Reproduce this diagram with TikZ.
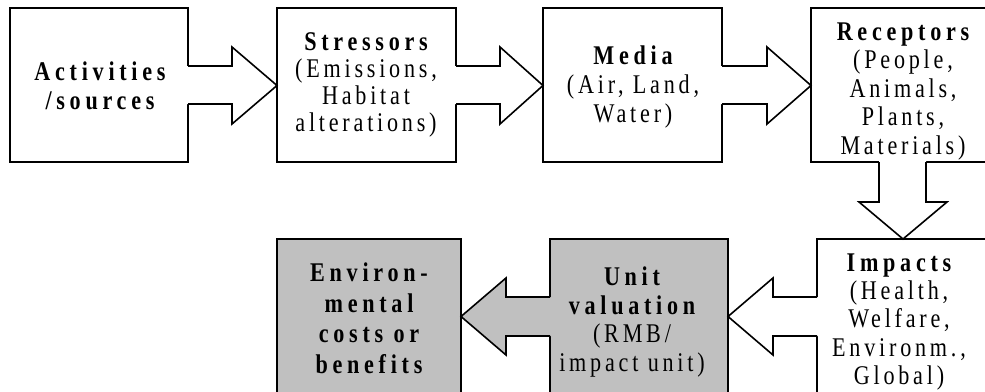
\documentclass[tikz,border=0pt]{standalone}
\usepackage{fontspec}
\setmainfont{Liberation Serif}
\newfontfamily\rsp[LetterSpace=14,FakeStretch=0.82]{Liberation Serif}
\newfontfamily\bsp[LetterSpace=17.5,FakeStretch=0.82]{Liberation Serif}
\usetikzlibrary{calc}
\definecolor{boxgray}{HTML}{C0C0C0}
\newcommand{\hd}[1]{{\bsp\bfseries #1}}
\tikzset{
  box/.style={draw, line width=1.6pt, inner sep=0pt, outer sep=0pt},
  wbox/.style={box, fill=white},
  gbox/.style={box, fill=boxgray},
  txt/.style={align=center, inner sep=0pt, font=\rsp\fontsize{27}{#1}\selectfont},
  outline/.style={line width=1.6pt, line join=miter},
}
\begin{document}
\begin{tikzpicture}[x=1pt, y=-1pt]
\useasboundingbox (0,0) rectangle (985,391);
\clip (0,0) rectangle (985,391);
\fill[white] (0,0) rectangle (985,391);
% boxes
\node[wbox, minimum width=178pt, minimum height=154pt] (A) at (99,85) {};
\node[wbox, minimum width=179pt, minimum height=154pt] (S) at (366.5,85) {};
\node[wbox, minimum width=179pt, minimum height=154pt] (M) at (632.5,85) {};
\node[wbox, minimum width=184pt, minimum height=154pt] (R) at (903,85) {};
\node[wbox, minimum width=178pt, minimum height=161pt] (I) at (906,319.5) {};
\node[gbox, minimum width=178pt, minimum height=161pt] (U) at (639,319.5) {};
\node[gbox, minimum width=184pt, minimum height=161pt] (E) at (369,319.5) {};
% texts
\node[txt=29] (tA) at (100,86) {\hd{Activities}\\\hd{/sources}};
\node[txt=27] (tS) at (366,85.3) {\hd{Stressors}\\(Emissions,\\Habitat\\alterations)};
\node[txt=29] (tM) at (633,87.5) {\hd{Media}\\(Air, Land,\\Water)};
\node[txt=28.5] (tR) at (903,91.5) {\hd{Receptors}\\(People,\\Animals,\\Plants,\\Materials)};
\node[txt=28.3] (tI) at (899,322) {\hd{Impacts}\\(Health,\\Welfare,\\Environm.,\\Global)};
\node[txt=28.7] (tU) at (632,322) {\hd{Unit}\\\hd{valuation}\\(RMB/\\impact unit)};
\node[txt=30.5] (tE) at (369,318.5) {\hd{Environ-}\\\hd{mental}\\\hd{costs or}\\\hd{benefits}};
% arrow A -> S
\fill[white] ([xshift=-1.5pt]A.east |- 0,66) -- (232,66) -- (232,47) -- (S.west |- 0,85.5) -- (232,124) -- (232,104) -- ([xshift=-1.5pt]A.east |- 0,104) -- cycle;
\draw[outline] (A.east |- 0,66) -- (232,66) -- (232,47) -- (S.west |- 0,85.5) -- (232,124) -- (232,104) -- (A.east |- 0,104);
% arrow S -> M
\fill[white] ([xshift=-1.5pt]S.east |- 0,66) -- (500,66) -- (500,47) -- (M.west |- 0,85.5) -- (500,124) -- (500,104) -- ([xshift=-1.5pt]S.east |- 0,104) -- cycle;
\draw[outline] (S.east |- 0,66) -- (500,66) -- (500,47) -- (M.west |- 0,85.5) -- (500,124) -- (500,104) -- (S.east |- 0,104);
% arrow M -> R
\fill[white] ([xshift=-1.5pt]M.east |- 0,66) -- (767,66) -- (767,47) -- (R.west |- 0,85.5) -- (767,124) -- (767,104) -- ([xshift=-1.5pt]M.east |- 0,104) -- cycle;
\draw[outline] (M.east |- 0,66) -- (767,66) -- (767,47) -- (R.west |- 0,85.5) -- (767,124) -- (767,104) -- (M.east |- 0,104);
% arrow R -> I (down)
\fill[white] ([yshift=1.5pt]879,0 |- R.south) -- (879,202) -- (859,202) -- (I.north -| 903,0) -- (947,202) -- (926,202) -- ([yshift=1.5pt]926,0 |- R.south) -- cycle;
\draw[outline] (879,0 |- R.south) -- (879,202) -- (859,202) -- (I.north -| 903,0) -- (947,202) -- (926,202) -- (926,0 |- R.south);
% arrow I -> U (left)
\fill[white] ([xshift=1.5pt]I.west |- 0,297) -- (773,297) -- (773,278) -- (U.east |- 0,316.5) -- (773,355) -- (773,336) -- ([xshift=1.5pt]I.west |- 0,336) -- cycle;
\draw[outline] (I.west |- 0,297) -- (773,297) -- (773,278) -- (U.east |- 0,316.5) -- (773,355) -- (773,336) -- (I.west |- 0,336);
% arrow U -> E (left, gray)
\fill[boxgray] ([xshift=1.5pt]U.west |- 0,297) -- (506,297) -- (506,278) -- (E.east |- 0,316.5) -- (506,355) -- (506,336) -- ([xshift=1.5pt]U.west |- 0,336) -- cycle;
\draw[outline] (U.west |- 0,297) -- (506,297) -- (506,278) -- (E.east |- 0,316.5) -- (506,355) -- (506,336) -- (U.west |- 0,336);
\end{tikzpicture}
\end{document}
